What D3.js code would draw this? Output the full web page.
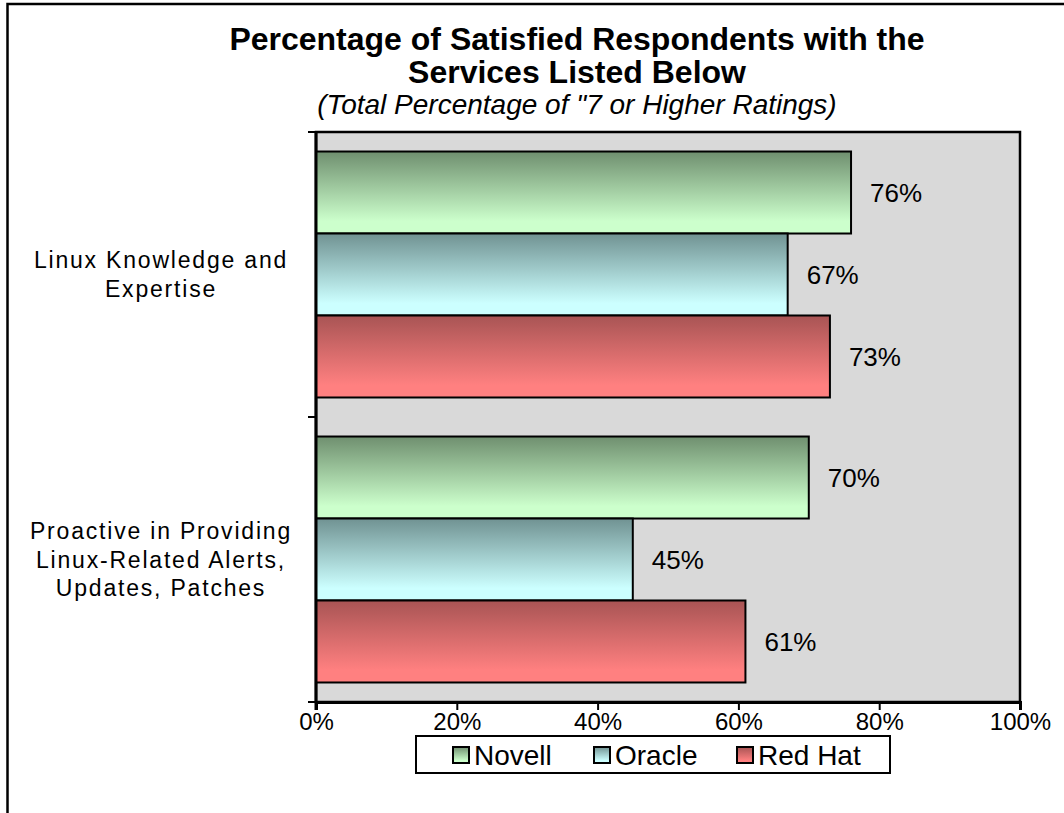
<!DOCTYPE html>
<html>
<head>
<meta charset="utf-8">
<script src="https://cdn.jsdelivr.net/npm/d3@7"></script>
<style>
  html, body { margin: 0; padding: 0; background: #ffffff; }
  svg { display: block; font-family: Arial, "Liberation Sans", sans-serif; }
</style>
</head>
<body>
<svg id="chart" width="1064" height="813"></svg>
<script>
// ---- data ----
const categories = ["Linux Knowledge and Expertise", "Proactive in Providing Linux-Related Alerts, Updates, Patches"];
const categoryLines = [
  ["Linux Knowledge and", "Expertise"],
  ["Proactive in Providing", "Linux-Related  Alerts,", "Updates, Patches"]
];
const seriesNames = ["Novell", "Oracle", "Red Hat"];
const novellValues = [0.76, 0.70];
const oracleValues = [0.67, 0.45];
const redHatValues = [0.73, 0.61];
const xTicks = [0, 0.2, 0.4, 0.6, 0.8, 1.0];
const titleLines = ["Percentage of Satisfied Respondents with the", "Services Listed Below"];
const subtitle = "(Total Percentage of \"7 or Higher Ratings)";

const seriesValues = [novellValues, oracleValues, redHatValues];
const seriesColors = [
  { dark: "#6f8f6f", light: "#ccffcc" },
  { dark: "#709292", light: "#ccffff" },
  { dark: "#a85454", light: "#ff8080" }
];

// ---- layout ----
const svg = d3.select("#chart");
const plot = { left: 316, right: 1020, top: 132, bottom: 702 };

const x = d3.scaleLinear().domain([0, 1]).range([plot.left, plot.right]);
const y = d3.scaleBand().domain(categories).range([plot.top, plot.bottom]).padding(0);
const inner = d3.scaleBand().domain(seriesNames).range([0, y.bandwidth()])
  .paddingInner(0).paddingOuter(0.238);

// gradients
const defs = svg.append("defs");
seriesColors.forEach((c, i) => {
  const g = defs.append("linearGradient").attr("id", "grad" + i)
    .attr("x1", 0).attr("y1", 0).attr("x2", 0).attr("y2", 1);
  g.append("stop").attr("offset", "0%").attr("stop-color", c.dark);
  g.append("stop").attr("offset", "85%").attr("stop-color", c.light);
  g.append("stop").attr("offset", "100%").attr("stop-color", c.light);
});

// outer chart border (top + left visible)
svg.append("rect").attr("x", 7.5).attr("y", 4).attr("width", 1200).attr("height", 1000)
  .attr("fill", "#ffffff").attr("stroke", "#000").attr("stroke-width", 2.5);

// title
const title = svg.append("g");
title.selectAll("text.t").data(titleLines).enter().append("text")
  .attr("class", "t")
  .attr("x", 577).attr("y", (d, i) => 50 + i * 33)
  .attr("text-anchor", "middle")
  .attr("font-size", 32).attr("font-weight", "bold").attr("fill", "#000")
  .text(d => d);
title.append("text")
  .attr("x", 577).attr("y", 114)
  .attr("text-anchor", "middle")
  .attr("font-size", 28).attr("font-style", "italic").attr("fill", "#000")
  .text(subtitle);

// plot background
svg.append("rect")
  .attr("x", plot.left).attr("y", plot.top)
  .attr("width", plot.right - plot.left).attr("height", plot.bottom - plot.top)
  .attr("fill", "#d9d9d9").attr("stroke", "#000").attr("stroke-width", 2.5);

// bars
const groups = svg.append("g").selectAll("g").data(categories).enter().append("g")
  .attr("transform", d => `translate(0,${y(d)})`);

groups.each(function (cat, ci) {
  const g = d3.select(this);
  const rows = seriesNames.map((s, si) => ({ s, si, v: seriesValues[si][ci] }));
  g.selectAll("rect").data(rows).enter().append("rect")
    .attr("x", x(0))
    .attr("y", d => inner(d.s))
    .attr("width", d => x(d.v) - x(0))
    .attr("height", inner.bandwidth())
    .attr("fill", d => `url(#grad${d.si})`)
    .attr("stroke", "#000").attr("stroke-width", 2);
  g.selectAll("text.val").data(rows).enter().append("text")
    .attr("class", "val")
    .attr("x", d => x(d.v) + 19)
    .attr("y", d => inner(d.s) + inner.bandwidth() / 2)
    .attr("dy", "0.35em")
    .attr("font-size", 26).attr("fill", "#000")
    .text(d => d3.format(".0%")(d.v));
});

// x axis
const xAxis = d3.axisBottom(x).tickValues(xTicks).tickFormat(d3.format(".0%"))
  .tickSize(8).tickPadding(3);
const xg = svg.append("g").attr("transform", `translate(0,${plot.bottom})`).call(xAxis);
xg.select(".domain").attr("stroke", "#000").attr("stroke-width", 3);
xg.selectAll(".tick line").attr("stroke", "#000").attr("stroke-width", 2);
xg.selectAll(".tick text").attr("font-size", 24).attr("font-family", "Arial, 'Liberation Sans', sans-serif").attr("fill", "#000");

// y axis (ticks at category boundaries)
const boundaries = [plot.top].concat(categories.map(c => y(c) + y.bandwidth()));
const yg = svg.append("g");
yg.append("line").attr("x1", plot.left).attr("x2", plot.left)
  .attr("y1", plot.top).attr("y2", plot.bottom + 8)
  .attr("stroke", "#000").attr("stroke-width", 3);
yg.selectAll("line.tk").data(boundaries).enter().append("line").attr("class", "tk")
  .attr("x1", plot.left - 8).attr("x2", plot.left)
  .attr("y1", d => d).attr("y2", d => d)
  .attr("stroke", "#000").attr("stroke-width", 2);

// category labels
categories.forEach((c, ci) => {
  const lines = categoryLines[ci];
  const lh = 28.5;
  const cy = y(c) + y.bandwidth() / 2;
  const t = svg.append("text")
    .attr("text-anchor", "middle")
    .attr("font-size", 23).attr("letter-spacing", 1.8).attr("fill", "#000");
  lines.forEach((ln, li) => {
    t.append("tspan").attr("x", 161)
      .attr("y", cy + (li - (lines.length - 1) / 2) * lh)
      .attr("dy", "0.35em")
      .text(ln);
  });
});

// legend
const legend = svg.append("g");
legend.append("rect").attr("x", 416).attr("y", 736).attr("width", 474).attr("height", 37)
  .attr("fill", "#fff").attr("stroke", "#000").attr("stroke-width", 2);
const legendX = [453, 594, 737];
seriesNames.forEach((s, i) => {
  legend.append("rect").attr("x", legendX[i]).attr("y", 747).attr("width", 16).attr("height", 16)
    .attr("fill", `url(#grad${i})`).attr("stroke", "#000").attr("stroke-width", 2);
  legend.append("text").attr("x", legendX[i] + 21).attr("y", 755).attr("dy", "0.35em")
    .attr("font-size", 28).attr("fill", "#000").text(s);
});
</script>
</body>
</html>
